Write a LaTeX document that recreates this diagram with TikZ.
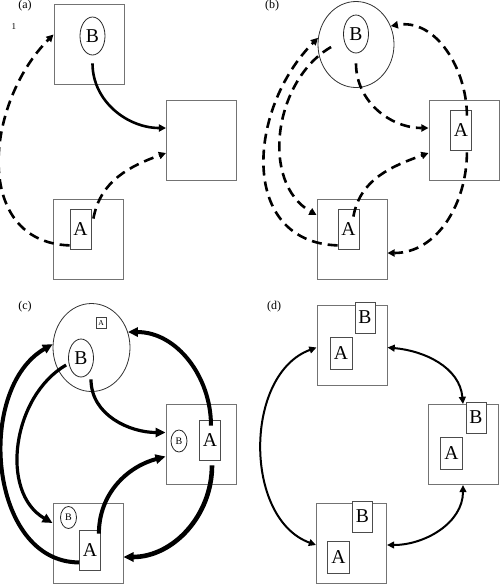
\documentclass[tikz,border=0pt]{standalone}
\usepackage{fontspec}
\setmainfont{Liberation Serif}
\usepackage{tikz}
\usetikzlibrary{positioning}
\usetikzlibrary{shapes.geometric,arrows.meta}
\usetikzlibrary{calc}
\tikzstyle{cell}=[rectangle,draw=black!55,line width=0.5pt,minimum width=35pt,minimum height=40pt,inner sep=0pt]
\tikzstyle{bubble}=[ellipse,draw=black!80,line width=0.4pt,minimum width=38pt,minimum height=43pt,inner sep=0pt]
\tikzstyle{oval}=[ellipse,draw=black!85,line width=0.4pt,minimum width=12.5pt,minimum height=19pt,inner sep=0pt,font=\fontsize{9.8}{10}\selectfont]
\tikzstyle{smalloval}=[ellipse,draw=black!85,line width=0.4pt,minimum width=8pt,minimum height=11pt,inner sep=0pt,font=\fontsize{5}{5}\selectfont]
\tikzstyle{tag}=[rectangle,draw=black!70,fill=white,line width=0.4pt,minimum width=10.5pt,minimum height=20pt,inner sep=0pt,font=\fontsize{9.8}{10}\selectfont]
\tikzstyle{smalltag}=[rectangle,draw=black!75,line width=0.4pt,minimum width=5pt,minimum height=5.5pt,inner sep=0pt,font=\fontsize{3.8}{4}\selectfont]
\tikzstyle{btag}=[tag,minimum width=10pt,minimum height=15.5pt]
\tikzstyle{atag}=[tag,minimum width=11pt,minimum height=16pt]
\tikzstyle{panel}=[font=\fontsize{6}{6}\selectfont]
\tikzstyle{dashedge}=[line width=1.3pt,dash pattern=on 5pt off 3pt,-{Triangle[length=3.6pt,width=3.6pt]}]
\tikzstyle{plainedge}=[line width=1.3pt,-{Triangle[length=3.6pt,width=3.6pt]}]
\tikzstyle{heavyedge}=[line width=2pt,-{Triangle[length=5pt,width=4.6pt]}]
\tikzstyle{linkedge}=[line width=1pt,{Triangle[length=3.6pt,width=3.4pt]}-{Triangle[length=3.6pt,width=3.4pt]}]

\begin{document}
\begin{tikzpicture}[x=0.5pt,y=-0.5pt]
\useasboundingbox (0,0) rectangle (500,585);

%(a)
    \node[panel] (la) at (25,6) {(a)};
    \node[font=\fontsize{4.5}{5}\selectfont] (one) at (14,27) {1};
    \foreach \pos/\name in {{(89,44.5)/aTop}, {(201.5,140)/aRight}, {(88.5,239)/aBot}}
        \node[cell] (\name) at \pos {};
    \node[oval] (aB) at (92.5,36) {B};
    \node[tag] (aA) at (80.5,229) {A};

  \draw[plainedge] ([yshift=-4pt]aB.south) to[out=-90,in=180] ([yshift=6pt]aRight.west);
  \draw[dashedge] ([yshift=2pt]aA.south west) to[out=178,in=-135,looseness=1.18] ([yshift=5pt]aTop.west);
  \draw[dashedge] ([xshift=1pt,yshift=-5pt]aA.north east) to[out=80,in=-160] ([yshift=-6.5pt]aRight.west);

%(b)
    \node[panel] (lb) at (272,6) {(b)};
    \node[bubble] (bTop) at (356,44.5) {};
    \foreach \pos/\name in {{(464,140)/bRight}, {(352,239)/bBot}}
        \node[cell] (\name) at \pos {};
    \node[oval] (bB) at (356,34) {B};
    \node[tag] (bRA) at (461,130) {A};
    \node[tag] (bBA) at (348.5,229) {A};

  \draw[dashedge] ([yshift=2pt]bBA.south west) to[out=178,in=-135,looseness=1.22] (bTop.170);
  \draw[dashedge] ([xshift=-6pt,yshift=-6.5pt]bB.west) to[out=-150,in=150] ([yshift=12pt]bBot.west);
  \draw[dashedge] ([yshift=-5pt]bB.south) to[out=-90,in=180] ([yshift=6pt]bRight.west);
  \draw[dashedge] ([xshift=-3pt,yshift=-4pt]bBA.north east) to[out=80,in=-160] ([yshift=-6.5pt]bRight.west);
  \draw[dashedge] ([xshift=-2.5pt,yshift=-3pt]bRA.north east) to[out=90,in=10] (bTop.28);
  \draw[dashedge] ([xshift=-2.5pt,yshift=-1pt]bRA.south east) to[out=-90,in=0] ([yshift=-7pt]bBot.east);

%(c)
    \node[panel] (lc) at (25,307) {(c)};
    \node[bubble,minimum width=38.5pt,minimum height=44pt] (cTop) at (91.5,347.5) {};
    \foreach \pos/\name in {{(201,444.5)/cRight}, {(88,543)/cBot}}
        \node[cell] (\name) at \pos {};
    \node[smalltag] (cTa) at (101,322.5) {A};
    \node[oval] (cB) at (81,358) {B};
    \node[smalloval] (cRB) at (179,441) {B};
    \node[tag] (cRA) at (210,440) {A};
    \node[smalloval] (cBB) at (68.5,517.5) {B};
    \node[tag] (cBA) at (90,550) {A};

  \draw[heavyedge] ([yshift=4pt]cBA.south west) to[out=180,in=-150,looseness=1.05] (cTop.175);
  \draw[heavyedge,line width=1.6pt] ([xshift=-1pt,yshift=-3.5pt]cB.west) to[out=-150,in=150] ([yshift=10pt]cBot.west);
  \draw[heavyedge,line width=1.6pt] ([xshift=5pt,yshift=-1pt]cB.south) to[out=-90,in=180] ([yshift=6pt]cRight.west);
  \draw[heavyedge] ([xshift=-1pt,yshift=-2pt]cBA.north east) to[out=90,in=-165] ([yshift=-6pt]cRight.west);
  \draw[heavyedge] ([xshift=0.5pt,yshift=-3pt]cRA.north) to[out=90,in=0] (cTop.23);
  \draw[heavyedge,line width=2.3pt] ([xshift=1pt,yshift=-2.5pt]cRA.south) to[out=-90,in=0] ([yshift=-7pt]cBot.east);

%(d)
    \node[panel] (ld) at (274,307) {(d)};
    \foreach \pos/\name in {{(352,345.5)/dTop}, {(463,444.5)/dRight}, {(351.5,543)/dBot}}
        \node[cell] (\name) at \pos {};
    \foreach \pos/\name in {{(365,317.5)/dTB}, {(476,417.5)/dRB}, {(362.5,516.5)/dBB}}
        \node[btag] (\name) at \pos {B};
    \foreach \pos/\name in {{(341,353)/dTA}, {(451.5,453.5)/dRA}, {(338.5,557)/dBA}}
        \node[atag] (\name) at \pos {A};

  \draw[linkedge] ([yshift=-1pt]dTop.west) to[out=200,in=160] ([yshift=-1pt]dBot.west);
  \draw[linkedge] ([yshift=-1pt]dTop.east) to[out=-5,in=95] (dRight.north);
  \draw[linkedge] (dRight.south) to[out=-90,in=0] ([yshift=-1pt]dBot.east);

\end{tikzpicture}
\end{document}
